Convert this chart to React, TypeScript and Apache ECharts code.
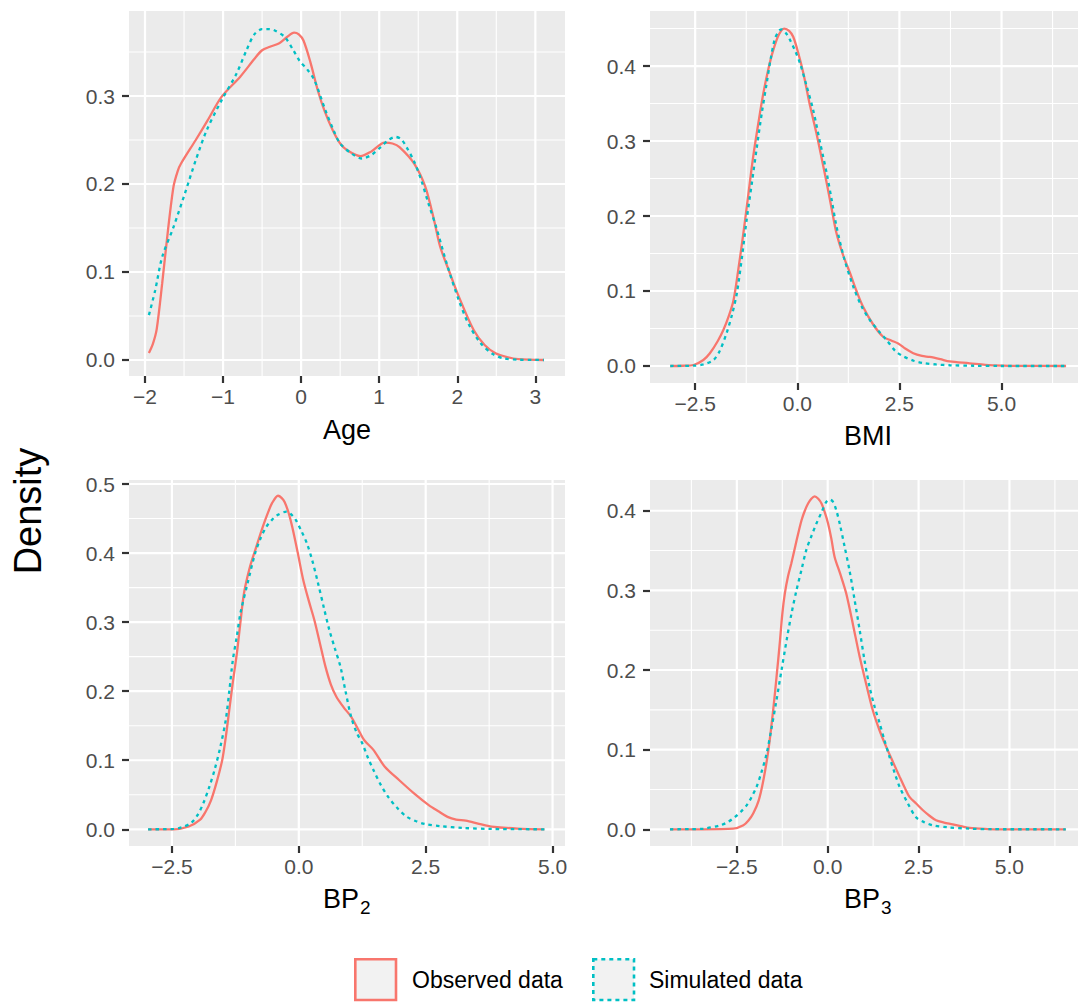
import React, { useEffect, useRef } from "react";
import * as echarts from "echarts";

const RED = "#F8766D";
const BLUE = "#00BFC4";
const FONT = "'Liberation Sans', Arial, Helvetica, sans-serif";

// ---- data (x, density) ----
const ageObserved = [[-1.95,0.008],[-1.9,0.018],[-1.85,0.035],[-1.78,0.087],[-1.71,0.144],[-1.635,0.197],[-1.58,0.215],[-1.54,0.223],[-1.35,0.25],[-1.2,0.272],[-1.02,0.299],[-0.78,0.322],[-0.6,0.342],[-0.5,0.352],[-0.4,0.356],[-0.28,0.36],[-0.18,0.367],[-0.09,0.372],[-0.03,0.37],[0.03,0.363],[0.12,0.338],[0.215,0.306],[0.3,0.283],[0.405,0.261],[0.5,0.246],[0.595,0.238],[0.76,0.2316],[0.9,0.237],[1.07,0.247],[1.17,0.246],[1.26,0.242],[1.45,0.223],[1.59,0.197],[1.7,0.16],[1.78,0.129],[1.9,0.1],[2.02,0.072],[2.21,0.034],[2.35,0.017],[2.49,0.0076],[2.65,0.003],[2.78,0.001],[3.11,0]];
const ageSimulated = [[-1.95,0.051],[-1.87,0.079],[-1.78,0.117],[-1.635,0.151],[-1.49,0.189],[-1.35,0.227],[-1.21,0.261],[-1.02,0.295],[-0.83,0.325],[-0.7,0.352],[-0.6,0.37],[-0.5,0.376],[-0.42,0.376],[-0.35,0.375],[-0.21,0.367],[-0.1,0.352],[-0.02,0.34],[0.08,0.33],[0.17,0.318],[0.31,0.284],[0.42,0.26],[0.5,0.246],[0.64,0.235],[0.78,0.229],[0.9,0.233],[1.02,0.242],[1.12,0.25],[1.21,0.2535],[1.28,0.251],[1.35,0.242],[1.45,0.225],[1.54,0.204],[1.63,0.178],[1.73,0.151],[1.87,0.108],[2.02,0.068],[2.15,0.04],[2.3,0.019],[2.45,0.007],[2.59,0.002],[2.8,0.0003],[3.11,0]];

const bmiObserved = [[-3.11,0],[-2.8,0.0003],[-2.54,0.0013],[-2.3,0.008],[-2.14,0.017],[-1.95,0.033],[-1.81,0.048],[-1.68,0.066],[-1.56,0.088],[-1.44,0.13],[-1.32,0.177],[-1.2,0.228],[-1.08,0.279],[-0.95,0.325],[-0.83,0.364],[-0.7,0.398],[-0.59,0.421],[-0.45,0.442],[-0.32,0.45],[-0.2,0.447],[-0.1,0.439],[0.02,0.418],[0.15,0.39],[0.3,0.35],[0.47,0.31],[0.6,0.276],[0.72,0.244],[0.84,0.21],[0.96,0.177],[1.12,0.148],[1.29,0.124],[1.45,0.1],[1.61,0.079],[1.85,0.056],[2.1,0.039],[2.3,0.034],[2.47,0.03],[2.65,0.023],[2.84,0.017],[3.05,0.0135],[3.24,0.012],[3.5,0.009],[3.73,0.006],[4.22,0.0036],[4.6,0.0015],[5.04,0.0005],[5.6,0.0001],[6.58,0]];
const bmiSimulated = [[-3.11,0],[-2.54,0.0004],[-2.3,0.002],[-2.05,0.008],[-1.9,0.02],[-1.73,0.044],[-1.6,0.068],[-1.48,0.097],[-1.36,0.143],[-1.24,0.195],[-1.11,0.245],[-0.99,0.292],[-0.87,0.337],[-0.75,0.377],[-0.65,0.41],[-0.55,0.436],[-0.45,0.447],[-0.38,0.449],[-0.28,0.444],[-0.18,0.435],[-0.05,0.42],[0.065,0.404],[0.22,0.375],[0.39,0.341],[0.55,0.3],[0.72,0.257],[0.84,0.222],[0.96,0.186],[1.15,0.143],[1.37,0.106],[1.57,0.08],[1.78,0.061],[2.0,0.046],[2.18,0.035],[2.4,0.02],[2.59,0.013],[2.85,0.007],[3.08,0.004],[3.4,0.002],[3.73,0.001],[4.3,0.0003],[5.0,0],[6.58,0]];

const bp2Observed = [[-2.97,0],[-2.46,0],[-2.17,0.004],[-1.95,0.0135],[-1.84,0.025],[-1.73,0.042],[-1.62,0.068],[-1.51,0.1],[-1.44,0.133],[-1.37,0.173],[-1.3,0.213],[-1.22,0.255],[-1.15,0.3],[-1.08,0.342],[-0.97,0.378],[-0.86,0.404],[-0.71,0.438],[-0.6,0.46],[-0.53,0.472],[-0.41,0.483],[-0.34,0.48],[-0.28,0.474],[-0.2,0.458],[-0.13,0.438],[-0.02,0.4],[0.087,0.361],[0.2,0.33],[0.306,0.303],[0.42,0.268],[0.525,0.2355],[0.63,0.21],[0.74,0.192],[0.88,0.177],[1.03,0.163],[1.16,0.146],[1.29,0.129],[1.47,0.115],[1.69,0.091],[1.98,0.071],[2.27,0.052],[2.56,0.035],[2.75,0.026],[2.93,0.018],[3.1,0.014],[3.29,0.0125],[3.55,0.008],[3.8,0.004],[4.31,0.001],[4.84,0]];
const bp2Simulated = [[-2.97,0],[-2.46,0.0005],[-2.3,0.003],[-2.13,0.0087],[-2.0,0.02],[-1.88,0.038],[-1.77,0.06],[-1.66,0.086],[-1.55,0.118],[-1.44,0.158],[-1.37,0.2],[-1.3,0.245],[-1.22,0.28],[-1.15,0.313],[-1.01,0.356],[-0.86,0.4],[-0.75,0.422],[-0.64,0.438],[-0.53,0.448],[-0.42,0.455],[-0.24,0.46],[-0.15,0.456],[-0.06,0.448],[0.05,0.432],[0.16,0.414],[0.27,0.388],[0.38,0.356],[0.49,0.322],[0.6,0.289],[0.71,0.262],[0.82,0.2355],[0.92,0.2],[1.03,0.163],[1.14,0.14],[1.25,0.1245],[1.36,0.104],[1.47,0.086],[1.61,0.065],[1.76,0.047],[1.95,0.03],[2.13,0.018],[2.3,0.012],[2.49,0.0075],[2.8,0.0045],[3.22,0.002],[3.8,0.0005],[4.84,0]];

const bp3Observed = [[-4.34,0],[-3.42,0],[-2.6,0.0008],[-2.32,0.005],[-2.18,0.011],[-2.05,0.0197],[-1.9,0.036],[-1.77,0.0616],[-1.63,0.1],[-1.5,0.1495],[-1.4,0.195],[-1.32,0.233],[-1.25,0.27],[-1.18,0.296],[-1.09,0.318],[-1.0,0.334],[-0.86,0.362],[-0.72,0.388],[-0.63,0.4],[-0.54,0.409],[-0.45,0.415],[-0.36,0.418],[-0.26,0.415],[-0.17,0.409],[-0.08,0.398],[0.01,0.384],[0.1,0.365],[0.19,0.342],[0.35,0.32],[0.51,0.296],[0.7,0.256],[0.88,0.2165],[1.06,0.182],[1.24,0.1495],[1.42,0.125],[1.61,0.1035],[1.8,0.084],[1.98,0.0658],[2.12,0.052],[2.25,0.0406],[2.44,0.032],[2.62,0.0239],[2.8,0.017],[2.98,0.0113],[3.2,0.0085],[3.44,0.0063],[3.9,0.0017],[4.4,0.0003],[4.81,0],[6.55,0]];
const bp3Simulated = [[-4.34,0],[-3.8,0.0002],[-3.42,0.0008],[-2.96,0.005],[-2.75,0.009],[-2.55,0.0155],[-2.39,0.022],[-2.23,0.03],[-2.1,0.04],[-1.96,0.053],[-1.82,0.072],[-1.68,0.095],[-1.55,0.126],[-1.41,0.162],[-1.27,0.2],[-1.13,0.2375],[-1.0,0.27],[-0.86,0.3],[-0.72,0.326],[-0.59,0.3506],[-0.45,0.368],[-0.31,0.384],[-0.17,0.398],[-0.04,0.411],[0.06,0.414],[0.15,0.411],[0.24,0.4],[0.33,0.384],[0.46,0.356],[0.6,0.325],[0.74,0.288],[0.88,0.25],[1.01,0.213],[1.15,0.179],[1.29,0.154],[1.43,0.133],[1.56,0.112],[1.7,0.091],[1.84,0.071],[1.98,0.053],[2.2,0.033],[2.43,0.015],[2.65,0.009],[2.89,0.005],[3.3,0.0025],[3.9,0.0008],[4.5,0.0001],[6.55,0]];

// ---- ticks ----
const ageXTicks = [-2, -1, 0, 1, 2, 3];
const ageXMinor = [-1.5, -0.5, 0.5, 1.5, 2.5];
const ageYTicks = [0, 0.1, 0.2, 0.3];
const ageYMinor = [0.05, 0.15, 0.25, 0.35];
const bmiXTicks = [-2.5, 0, 2.5, 5];
const bmiXMinor = [-1.25, 1.25, 3.75, 6.25];
const bmiYTicks = [0, 0.1, 0.2, 0.3, 0.4];
const bmiYMinor = [0.05, 0.15, 0.25, 0.35, 0.45];
const bp2XTicks = [-2.5, 0, 2.5, 5];
const bp2XMinor = [-1.25, 1.25, 3.75];
const bp2YTicks = [0, 0.1, 0.2, 0.3, 0.4, 0.5];
const bp2YMinor = [0.05, 0.15, 0.25, 0.35, 0.45];
const bp3XTicks = [-2.5, 0, 2.5, 5];
const bp3XMinor = [-3.75, -1.25, 1.25, 3.75, 6.25];
const bp3YTicks = [0, 0.1, 0.2, 0.3, 0.4];
const bp3YMinor = [0.05, 0.15, 0.25, 0.35];

const legendLabels = ["Observed data", "Simulated data"];
const yTitle = "Density";

const panels = [
  { obs: ageObserved, sim: ageSimulated, xT: ageXTicks, xM: ageXMinor, yT: ageYTicks, yM: ageYMinor, xd: 0,
    xMin: -2.205, xMax: 3.38, yMin: -0.0182, yMax: 0.3966, box: { left: 129, top: 11, width: 436, height: 365 } },
  { obs: bmiObserved, sim: bmiSimulated, xT: bmiXTicks, xM: bmiXMinor, yT: bmiYTicks, yM: bmiYMinor, xd: 1,
    xMin: -3.606, xMax: 6.872, yMin: -0.0227, yMax: 0.4734, box: { left: 650, top: 11, width: 428, height: 372 } },
  { obs: bp2Observed, sim: bp2Simulated, xT: bp2XTicks, xM: bp2XMinor, yT: bp2YTicks, yM: bp2YMinor, xd: 1,
    xMin: -3.346, xMax: 5.245, yMin: -0.0242, yMax: 0.5058, box: { left: 129, top: 480, width: 436, height: 366 } },
  { obs: bp3Observed, sim: bp3Simulated, xT: bp3XTicks, xM: bp3XMinor, yT: bp3YTicks, yM: bp3YMinor, xd: 1,
    xMin: -4.889, xMax: 6.886, yMin: -0.021, yMax: 0.4386, box: { left: 650, top: 480, width: 428, height: 366 } },
];

const fmt = (v: number, d: number) => (v < 0 ? "\u2212" : "") + Math.abs(v).toFixed(d);

// grid kinds: 0 vertical major, 1 vertical minor, 2 horizontal major, 3 horizontal minor
export default function App() {
  const ref = useRef<HTMLDivElement>(null);
  useEffect(() => {
    document.body.style.margin = "0";
    const chart = echarts.init(ref.current!, undefined, { renderer: "svg" });
    const grids: any[] = [];
    const xAxes: any[] = [];
    const yAxes: any[] = [];
    const series: any[] = [];
    const hiddenLine = { show: true, onZero: false, lineStyle: { color: "rgba(0,0,0,0)" } };
    const tickStyle = (vals: number[]) => ({ show: true, inside: false, customValues: vals, length: 7, lineStyle: { color: "#333333", width: 2.2 } });
    panels.forEach((p, i) => {
      grids.push({ ...p.box, show: true, backgroundColor: "#EBEBEB", borderWidth: 0, containLabel: false });
      xAxes.push({
        gridIndex: i, type: "value", min: p.xMin, max: p.xMax, position: "bottom",
        axisLine: hiddenLine, splitLine: { show: false }, axisTick: tickStyle(p.xT),
        axisLabel: { customValues: p.xT, formatter: (v: number) => fmt(v, p.xd), fontSize: 21, color: "#4D4D4D", margin: 10, fontFamily: FONT },
      });
      yAxes.push({
        gridIndex: i, type: "value", min: p.yMin, max: p.yMax, position: "left",
        axisLine: hiddenLine, splitLine: { show: false }, axisTick: tickStyle(p.yT),
        axisLabel: { customValues: p.yT, formatter: (v: number) => fmt(v, 1), fontSize: 21, color: "#4D4D4D", margin: 14, fontFamily: FONT },
      });
      const midX = (p.xMin + p.xMax) / 2;
      const midY = (p.yMin + p.yMax) / 2;
      const gridData: number[][] = [];
      p.xM.forEach((v) => gridData.push([v, midY, 1]));
      p.yM.forEach((v) => gridData.push([midX, v, 3]));
      p.xT.forEach((v) => gridData.push([v, midY, 0]));
      p.yT.forEach((v) => gridData.push([midX, v, 2]));
      series.push({
        type: "custom", xAxisIndex: i, yAxisIndex: i, silent: true, z: 1, data: gridData,
        renderItem: (params: any, api: any) => {
          const cs = params.coordSys;
          const kind = api.value(2);
          const pt = api.coord([api.value(0), api.value(1)]);
          const vertical = kind < 2;
          const major = kind === 0 || kind === 2;
          const shape = vertical
            ? { x1: pt[0], y1: cs.y, x2: pt[0], y2: cs.y + cs.height }
            : { x1: cs.x, y1: pt[1], x2: cs.x + cs.width, y2: pt[1] };
          return { type: "line", shape, style: { stroke: "#FFFFFF", lineWidth: major ? 2.2 : 1.1 } };
        },
      });
      series.push({
        type: "line", name: legendLabels[0], xAxisIndex: i, yAxisIndex: i, data: p.obs, showSymbol: false, symbol: "none",
        smooth: 0.3, silent: true, z: 3, lineStyle: { color: RED, width: 2.3 },
      });
      series.push({
        type: "line", name: legendLabels[1], xAxisIndex: i, yAxisIndex: i, data: p.sim, showSymbol: false, symbol: "none",
        smooth: 0.3, silent: true, z: 4, lineStyle: { color: BLUE, width: 2.3, type: [3.5, 4], cap: "butt" },
      });
    });

    const titleStyle = (text: string, size: number) => ({
      text, fontSize: size, fill: "#000000", fontFamily: FONT,
      align: "center", textAlign: "center", verticalAlign: "middle", textVerticalAlign: "middle",
    });
    const leftStyle = (text: string, size: number) => ({
      text, fontSize: size, fill: "#000000", fontFamily: FONT,
      align: "left", textAlign: "left", verticalAlign: "middle", textVerticalAlign: "middle",
    });

    const graphic: any[] = [
      { type: "text", x: 347, y: 430, style: titleStyle("Age", 27) },
      { type: "text", x: 868, y: 436, style: titleStyle("BMI", 27) },
      { type: "text", x: 323, y: 899, style: leftStyle("BP", 27) },
      { type: "text", x: 360, y: 907, style: leftStyle("2", 19) },
      { type: "text", x: 844, y: 899, style: leftStyle("BP", 27) },
      { type: "text", x: 881, y: 907, style: leftStyle("3", 19) },
      { type: "text", x: 28, y: 511, rotation: Math.PI / 2, style: titleStyle(yTitle, 38) },
      { type: "rect", shape: { x: 355.3, y: 959.3, width: 40.7, height: 40.7 }, style: { fill: "#F2F2F2", stroke: RED, lineWidth: 2.6 } },
      { type: "rect", shape: { x: 593.3, y: 959.3, width: 40.7, height: 40.7 }, style: { fill: "#F2F2F2", stroke: BLUE, lineWidth: 2.6, lineDash: [4, 4] } },
      { type: "text", x: 412, y: 980, style: leftStyle(legendLabels[0], 23) },
      { type: "text", x: 649, y: 980, style: leftStyle(legendLabels[1], 23) },
    ];

    chart.setOption({
      animation: false,
      backgroundColor: "#FFFFFF",
      grid: grids,
      xAxis: xAxes,
      yAxis: yAxes,
      series,
      graphic,
    });
    return () => chart.dispose();
  }, []);
  return <div ref={ref} style={{ width: 1078, height: 1004 }} />;
}
